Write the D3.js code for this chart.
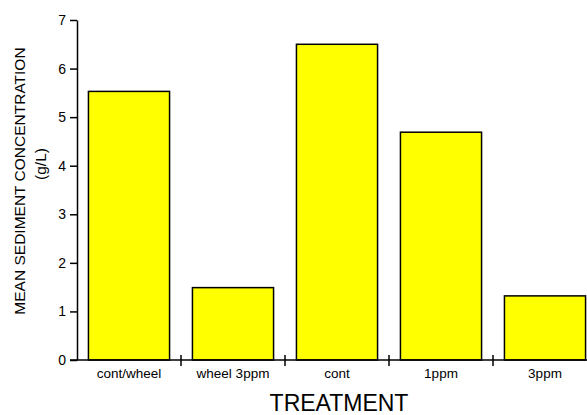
<!DOCTYPE html>
<html>
<head>
<meta charset="utf-8">
<script src="https://cdn.jsdelivr.net/npm/d3@7"></script>
<style>
  body { margin: 0; background: #fff; }
  text { font-family: "Liberation Sans", Arial, sans-serif; }
</style>
</head>
<body>
<div id="chart"></div>
<script>
var treatments = ['cont/wheel', 'wheel 3ppm', 'cont', '1ppm', '3ppm'];
var meanConc = [5.53, 1.49, 6.5, 4.69, 1.32];
var yTicks = [0, 1, 2, 3, 4, 5, 6, 7];

var W = 587, H = 415;
var plotL = 77, plotR = 597, plotT = 20, plotB = 360;

var svg = d3.select('#chart')
    .append('svg')
    .attr('width', W)
    .attr('height', H);

var x = d3.scaleBand()
    .domain(treatments)
    .range([plotL, plotR])
    .paddingInner(0.22)
    .paddingOuter(0.11);

var y = d3.scaleLinear()
    .domain([0, 7])
    .range([plotB, plotT]);

// bars
svg.selectAll('rect.bar').data(meanConc)
    .join('rect')
    .attr('class', 'bar')
    .attr('x', function (d, i) { return x(treatments[i]); })
    .attr('y', function (d) { return y(d); })
    .attr('width', x.bandwidth())
    .attr('height', function (d) { return y(0) - y(d); })
    .attr('fill', '#ffff00')
    .attr('stroke', '#000')
    .attr('stroke-width', 1.5);

// y axis
var yAxis = svg.append('g')
    .attr('transform', `translate(${plotL},0)`)
    .call(d3.axisLeft(y).tickValues(yTicks).tickFormat(d3.format('d'))
        .tickSize(7).tickPadding(4).tickSizeOuter(0));
yAxis.select('.domain').attr('stroke-width', 1.5);
yAxis.selectAll('.tick line').attr('stroke-width', 1.5);
yAxis.selectAll('.tick text')
    .attr('font-size', 14)
    .attr('font-family', '"Liberation Sans", Arial, sans-serif')
    .attr('fill', '#000');

// x axis with crossing ticks at band edges
var xg = svg.append('g');
xg.append('line')
    .attr('x1', plotL - 7).attr('x2', plotR)
    .attr('y1', plotB).attr('y2', plotB)
    .attr('stroke', '#000').attr('stroke-width', 1.5);
var edges = treatments.slice(1).map(function (t) {
    return x(t) - x.step() * x.paddingInner() / 2;
});
xg.selectAll('line.edge').data(edges)
    .join('line')
    .attr('class', 'edge')
    .attr('x1', function (d) { return d; })
    .attr('x2', function (d) { return d; })
    .attr('y1', plotB - 5).attr('y2', plotB + 6)
    .attr('stroke', '#000').attr('stroke-width', 1.5);
xg.selectAll('text').data(treatments)
    .join('text')
    .attr('x', function (d) { return x(d) + x.bandwidth() / 2; })
    .attr('y', plotB + 18)
    .attr('text-anchor', 'middle')
    .attr('font-size', 13.5)
    .text(function (d) { return d; });

// titles
svg.append('text')
    .attr('x', (plotL + plotR) / 2 + 2)
    .attr('y', 411)
    .attr('text-anchor', 'middle')
    .attr('font-size', 23)
    .text('TREATMENT');

svg.append('text')
    .attr('transform', 'translate(25,181) rotate(-90)')
    .attr('text-anchor', 'middle')
    .attr('font-size', 15.5)
    .text('MEAN SEDIMENT CONCENTRATION');
svg.append('text')
    .attr('transform', 'translate(46,164) rotate(-90)')
    .attr('text-anchor', 'middle')
    .attr('font-size', 15.5)
    .text('(g/L)');
</script>
</body>
</html>
